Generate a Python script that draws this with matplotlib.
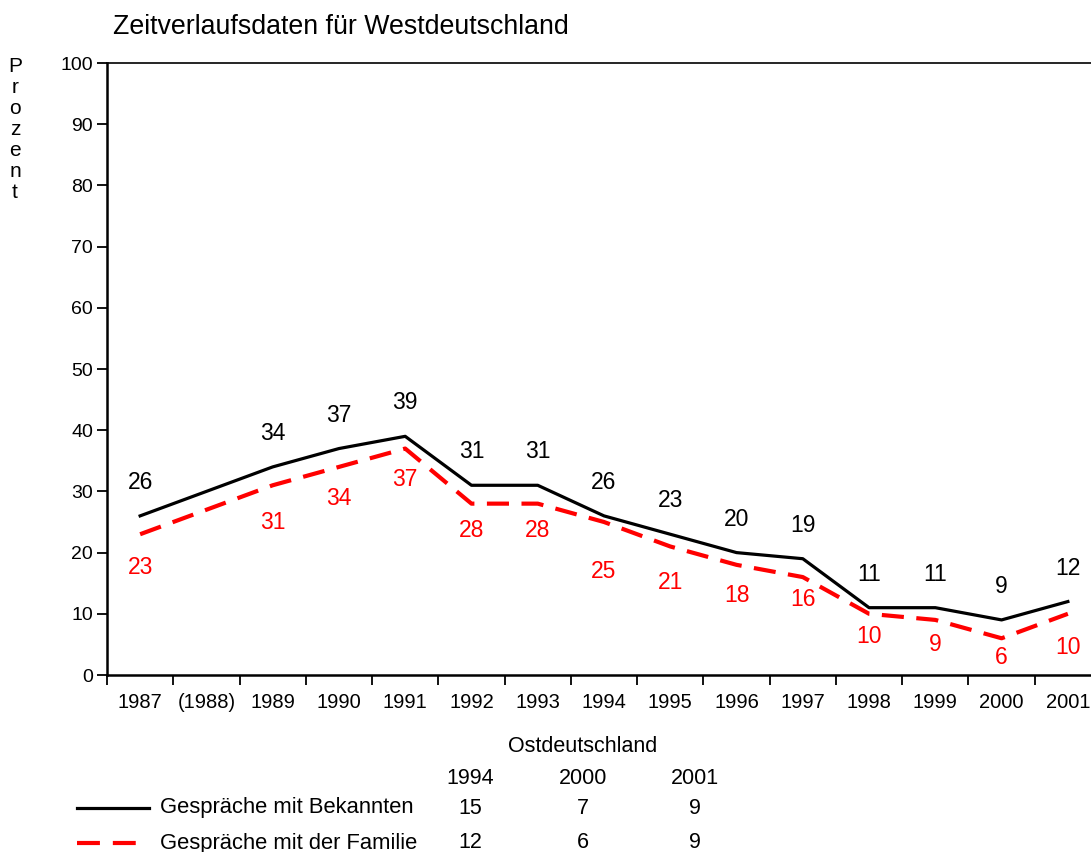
import matplotlib.pyplot as plt
from matplotlib.lines import Line2D

plt.rcParams["font.family"] = ["Liberation Sans", "DejaVu Sans"]

# Westdeutschland time series
years = ["1987", "(1988)", "1989", "1990", "1991", "1992", "1993", "1994",
         "1995", "1996", "1997", "1998", "1999", "2000", "2001"]
bekannten = [26, 30, 34, 37, 39, 31, 31, 26, 23, 20, 19, 11, 11, 9, 12]
familie = [23, 27, 31, 34, 37, 28, 28, 25, 21, 18, 16, 10, 9, 6, 10]
# 1988 is interpolated, no label shown
bekannten_lbl = ["26", "", "34", "37", "39", "31", "31", "26", "23", "20", "19", "11", "11", "9", "12"]
familie_lbl = ["23", "", "31", "34", "37", "28", "28", "25", "21", "18", "16", "10", "9", "6", "10"]

# Ostdeutschland table
ost_years = ["1994", "2000", "2001"]
bekannten_ost = [15, 7, 9]
familie_ost = [12, 6, 9]

# label offsets (points) below the red line
familie_dy = [-24, 0, -27, -23, -22, -19, -19, -36, -26, -22, -16, -16, -18, -14, -24]

W, H = 1091, 852
fig = plt.figure(figsize=(W / 100, H / 100), dpi=100)
ax = fig.add_axes([107 / W, 1 - 675 / H, (1101 - 107) / W, (675 - 63) / H])

x = list(range(len(years)))
ax.plot(x, bekannten, color="black", lw=2.3)
ax.plot(x, familie, color="#ff0000", lw=3.0, dashes=(5.3, 3.0))

for i in x:
    if bekannten_lbl[i]:
        ax.annotate(bekannten_lbl[i], (i, bekannten[i]), xytext=(0, 24),
                    textcoords="offset points", ha="center", va="center",
                    fontsize=16.5, color="black")
    if familie_lbl[i]:
        ax.annotate(familie_lbl[i], (i, familie[i]), xytext=(0, familie_dy[i]),
                    textcoords="offset points", ha="center", va="center",
                    fontsize=16.5, color="#ff0000")

ax.set_xlim(-0.5, len(years) - 0.5)
ax.set_ylim(0, 100)
ax.set_yticks(range(0, 101, 10))
ax.set_xticks(x)
ax.set_xticklabels(years)
ax.set_xticks([i - 0.5 for i in x], minor=True)
ax.tick_params(axis="x", which="major", length=0, pad=13, labelsize=14.5)
ax.tick_params(axis="x", which="minor", length=7, width=1.3, direction="out")
ax.tick_params(axis="y", length=7, width=1.3, direction="out", labelsize=14, pad=3)
for s in ["left", "bottom"]:
    ax.spines[s].set_linewidth(1.8)
ax.spines["top"].set_linewidth(1.2)
ax.spines["right"].set_visible(False)

fig.text(113 / W, 1 - 27 / H, "Zeitverlaufsdaten für Westdeutschland",
         fontsize=19.3, ha="left", va="center")
fig.text(15 / W, 1 - 57 / H, "\n".join("Prozent"), fontsize=15,
         ha="center", va="top", linespacing=1.13)

# Ostdeutschland table below the chart
fig.text(583 / W, 1 - 746 / H, "Ostdeutschland", fontsize=15.5, ha="center", va="center")
col_x = [470, 583, 695]
for cx, yr, b, f in zip(col_x, ost_years, bekannten_ost, familie_ost):
    fig.text(cx / W, 1 - 778 / H, yr, fontsize=15.5, ha="center", va="center")
    fig.text(cx / W, 1 - 808 / H, str(b), fontsize=15.5, ha="center", va="center")
    fig.text(cx / W, 1 - 843 / H, str(f), fontsize=15.5, ha="center", va="center")

fig.add_artist(Line2D([77 / W, 149 / W], [1 - 808 / H, 1 - 808 / H],
                      color="black", lw=2.3, transform=fig.transFigure))
fig.add_artist(Line2D([77 / W, 137 / W], [1 - 843 / H, 1 - 843 / H],
                      color="#ff0000", lw=3.0, dashes=(5.5, 3.1),
                      transform=fig.transFigure))
fig.text(160 / W, 1 - 808 / H, "Gespräche mit Bekannten", fontsize=15.8,
         ha="left", va="center")
fig.text(160 / W, 1 - 843 / H, "Gespräche mit der Familie", fontsize=15.8,
         ha="left", va="center")

fig.savefig("out.png", dpi=100)
